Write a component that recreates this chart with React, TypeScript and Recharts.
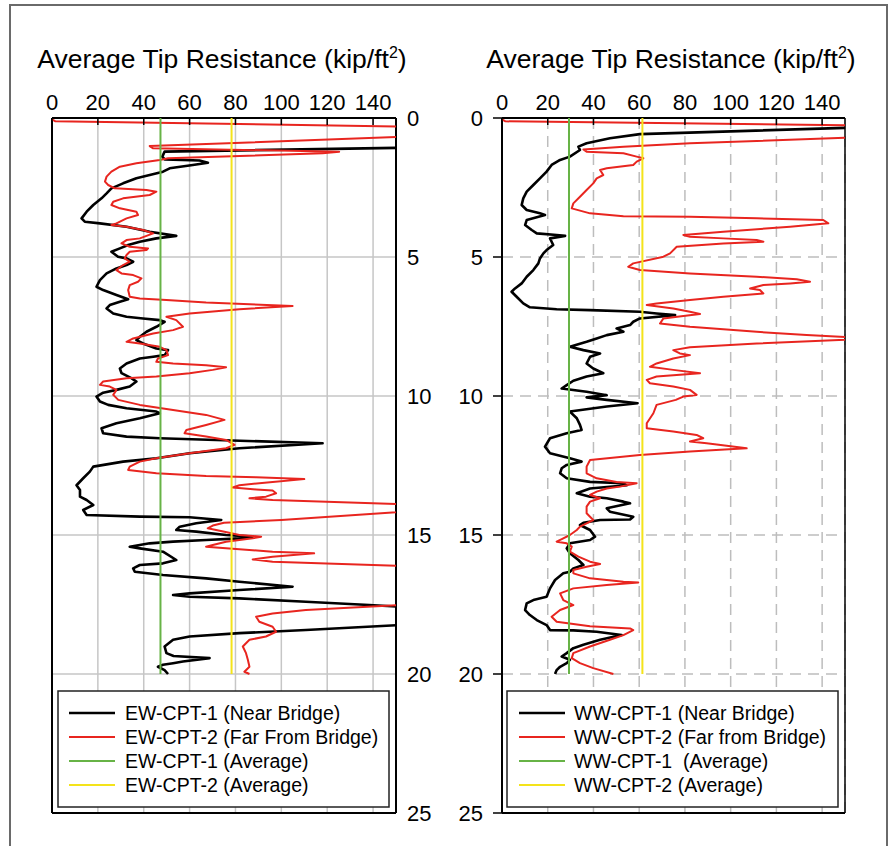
import React from "react";
import { ScatterChart, Scatter, XAxis, YAxis, CartesianGrid, ReferenceLine } from "recharts";

// [depth (ft), average tip resistance (kip/ft2)]
const EW_CPT_1: [number, number][] = [
  [0.1, 175], [1.04, 175], [1.21, 49.1], [1.39, 48.1], [1.49, 49.1], [1.53, 64.3], [1.61, 68.0], [1.69, 61.4],
  [1.81, 51.3], [1.93, 48.4], [2.05, 42.6], [2.17, 36.8], [2.35, 31.0], [2.53, 25.9], [2.71, 23.8], [2.89, 21.6],
  [3.13, 18.0], [3.37, 15.1], [3.61, 12.9], [3.73, 14.3], [3.79, 20.9], [3.91, 32.5], [4.09, 42.6], [4.24, 54.2],
  [4.33, 45.5], [4.45, 38.3], [4.57, 33.2], [4.69, 29.6], [4.81, 25.9], [4.99, 28.8], [5.05, 32.5], [5.17, 35.4],
  [5.29, 32.5], [5.41, 28.1], [5.59, 23.8], [5.83, 20.9], [6.07, 19.4], [6.19, 22.3], [6.37, 28.1], [6.52, 33.2],
  [6.61, 29.6], [6.73, 25.2], [6.85, 23.8], [7.03, 26.7], [7.15, 32.5], [7.21, 39.7], [7.27, 47.0], [7.33, 49.1],
  [7.51, 45.5], [7.69, 41.2], [7.87, 38.3], [7.99, 36.8], [8.11, 39.7], [8.29, 45.5], [8.35, 50.6], [8.53, 49.1],
  [8.59, 44.1], [8.65, 38.3], [8.83, 32.5], [9.01, 29.6], [9.18, 30.3], [9.36, 34.6], [9.48, 36.8], [9.66, 33.9],
  [9.78, 28.1], [9.88, 22.3], [10.02, 19.4], [10.2, 20.9], [10.32, 24.5], [10.44, 32.5], [10.56, 45.5], [10.62, 47.0],
  [10.8, 38.3], [10.98, 28.1], [11.16, 21.6], [11.34, 22.3], [11.46, 32.5], [11.52, 47.0], [11.7, 118.0], [11.88, 81.7],
  [12.06, 60.0], [12.24, 45.5], [12.36, 31.0], [12.54, 18.0], [12.72, 16.5], [12.96, 13.6], [13.21, 10.7], [13.38, 12.2],
  [13.62, 12.2], [13.74, 15.1], [13.92, 18.0], [14.1, 13.6], [14.28, 15.1], [14.34, 38.3], [14.36, 60.0], [14.46, 73.8],
  [14.58, 62.9], [14.7, 55.7], [14.82, 54.2], [14.88, 62.9], [15.0, 75.9], [15.06, 87.5], [15.12, 81.7], [15.18, 67.2],
  [15.24, 52.8], [15.3, 42.6], [15.42, 33.9], [15.48, 38.3], [15.6, 48.4], [15.9, 54.2], [16.02, 48.4], [16.08, 38.3],
  [16.2, 35.4], [16.32, 36.1], [16.44, 48.4], [16.56, 67.2], [16.68, 81.7], [16.86, 104.9], [16.98, 81.7], [17.1, 60.0],
  [17.16, 52.8], [17.22, 60.0], [17.28, 81.7], [17.4, 110.7], [17.52, 138.3], [17.62, 160], [18.18, 165], [18.42, 110.7],
  [18.53, 81.7], [18.65, 60.0], [18.77, 52.8], [19.01, 49.1], [19.25, 49.9], [19.35, 53.0], [19.43, 68.7], [19.55, 57.1],
  [19.61, 52.8], [19.67, 48.4], [19.74, 46.2], [19.86, 49.1], [20.0, 50.6],
];

const EW_CPT_2: [number, number][] = [
  [0.05, 0], [0.12, 1.5], [0.33, 170], [0.62, 170], [1.01, 42.6], [1.09, 44.1], [1.21, 125.2], [1.27, 118.0],
  [1.45, 50.6], [1.51, 47.0], [1.63, 36.8], [1.75, 29.6], [1.93, 25.9], [2.11, 23.8], [2.29, 23.1], [2.41, 24.5],
  [2.53, 27.4], [2.59, 41.2], [2.65, 45.5], [2.77, 42.6], [2.89, 31.0], [3.01, 26.7], [3.13, 25.9], [3.25, 29.6],
  [3.37, 36.8], [3.49, 37.5], [3.61, 32.5], [3.79, 28.1], [3.85, 25.9], [3.91, 32.5], [4.03, 39.7], [4.15, 44.1],
  [4.33, 38.3], [4.39, 32.5], [4.51, 30.3], [4.63, 33.9], [4.69, 41.9], [4.75, 41.2], [4.81, 33.9], [4.93, 32.5],
  [5.05, 31.7], [5.17, 33.9], [5.29, 31.0], [5.47, 28.1], [5.59, 30.3], [5.65, 35.4], [5.77, 39.0], [5.89, 37.5],
  [6.01, 33.9], [6.19, 33.2], [6.43, 33.9], [6.49, 38.3], [6.55, 49.9], [6.64, 67.2], [6.76, 104.9], [6.88, 81.7],
  [7.03, 60.0], [7.15, 49.9], [7.27, 54.2], [7.51, 57.1], [7.63, 52.8], [7.75, 44.1], [7.93, 35.4], [8.05, 32.5],
  [8.11, 38.3], [8.23, 47.0], [8.35, 49.9], [8.53, 50.6], [8.65, 46.2], [8.77, 45.5], [8.83, 52.8], [8.89, 67.2],
  [8.97, 75.9], [9.06, 70.1], [9.18, 60.0], [9.3, 45.5], [9.36, 32.5], [9.48, 22.3], [9.6, 20.9], [9.66, 25.2],
  [9.78, 28.1], [9.96, 26.7], [10.14, 28.9], [10.32, 38.3], [10.5, 52.8], [10.68, 67.2], [10.86, 75.2], [11.04, 67.2],
  [11.22, 58.6], [11.34, 57.8], [11.46, 67.2], [11.58, 75.9], [11.76, 79.6], [11.88, 75.9], [12.06, 60.0], [12.24, 45.5],
  [12.36, 38.3], [12.54, 33.9], [12.66, 33.2], [12.78, 45.5], [12.88, 67.2], [12.92, 89.0], [12.99, 110.0], [13.09, 96.2],
  [13.21, 81.7], [13.29, 78.8], [13.36, 89.0], [13.4, 96.2], [13.5, 97.7], [13.62, 93.3], [13.68, 86.1], [13.74, 96.2],
  [13.93, 165], [14.1, 165], [14.46, 100], [14.56, 75.0], [14.66, 70.1], [14.76, 67.9], [14.88, 75.2], [15.0, 81.7],
  [15.06, 91.2], [15.12, 87.5], [15.24, 75.9], [15.36, 70.1], [15.42, 67.2], [15.48, 75.9], [15.6, 96.2], [15.66, 114.3],
  [15.78, 96.2], [15.88, 87.5], [15.96, 96.2], [16.15, 165], [17.46, 165], [17.7, 110.7], [17.82, 96.2], [17.94, 89.0],
  [18.12, 90.4], [18.3, 96.2], [18.48, 97.7], [18.65, 93.3], [18.77, 86.1], [19.01, 83.2], [19.25, 84.6], [19.49, 85.4],
  [19.74, 86.1], [19.92, 83.9], [20.0, 86.1],
];

const WW_CPT_1: [number, number][] = [
  [0.05, 175], [0.33, 160], [0.58, 60.3], [0.73, 47.2], [0.91, 37.0], [1.03, 33.4], [1.15, 34.1], [1.39, 29.7],
  [1.51, 25.4], [1.69, 21.7], [1.93, 19.5], [2.17, 16.6], [2.41, 13.7], [2.65, 10.8], [2.89, 9.3], [3.13, 8.6],
  [3.31, 10.8], [3.43, 16.6], [3.49, 18.8], [3.67, 10.8], [3.85, 10.1], [4.03, 13.0], [4.15, 15.2], [4.21, 23.9],
  [4.24, 27.6], [4.33, 21.0], [4.45, 21.7], [4.57, 22.4], [4.75, 19.5], [4.87, 18.1], [5.05, 16.6], [5.23, 15.9],
  [5.47, 13.7], [5.71, 10.8], [5.95, 8.6], [6.13, 5.7], [6.25, 4.2], [6.43, 6.4], [6.67, 9.3], [6.81, 12.2],
  [6.88, 23.9], [6.91, 38.5], [6.97, 60.3], [7.03, 67.6], [7.09, 75.7], [7.21, 60.3], [7.33, 57.4], [7.45, 56.0],
  [7.57, 50.1], [7.69, 53.1], [7.81, 45.8], [7.93, 41.4], [8.05, 37.0], [8.23, 29.7], [8.35, 35.6], [8.47, 42.9],
  [8.59, 38.5], [8.83, 37.0], [9.01, 39.9], [9.18, 44.3], [9.3, 37.0], [9.45, 31.2], [9.61, 28.3], [9.73, 26.1],
  [9.85, 37.0], [9.97, 45.8], [10.05, 37.0], [10.14, 45.8], [10.26, 59.3], [10.38, 45.8], [10.56, 29.7], [10.8, 32.7],
  [11.04, 34.1], [11.22, 34.8], [11.34, 28.3], [11.52, 21.0], [11.82, 18.8], [12.06, 21.0], [12.24, 29.7], [12.36, 34.8],
  [12.48, 28.3], [12.6, 26.1], [12.78, 25.4], [12.96, 28.3], [13.09, 38.5], [13.14, 53.1], [13.21, 54.5], [13.33, 38.5],
  [13.5, 32.7], [13.62, 38.5], [13.68, 45.8], [13.8, 53.1], [13.86, 56.0], [14.04, 45.8], [14.16, 47.2], [14.34, 57.4],
  [14.44, 56.0], [14.46, 42.9], [14.56, 35.6], [14.64, 34.1], [14.82, 38.5], [15.06, 40.7], [15.18, 38.5], [15.3, 29.7],
  [15.48, 28.3], [15.66, 29.7], [15.9, 33.4], [16.08, 35.6], [16.2, 31.2], [16.32, 29.7], [16.38, 26.8], [16.62, 23.2],
  [16.92, 21.0], [17.22, 19.5], [17.34, 13.7], [17.46, 10.8], [17.7, 10.1], [17.88, 12.2], [18.06, 15.2], [18.24, 19.5],
  [18.42, 21.0], [18.43, 31.2], [18.48, 41.4], [18.6, 52.3], [18.77, 42.9], [18.95, 35.6], [19.07, 31.2], [19.25, 28.3],
  [19.37, 26.1], [19.49, 29.7], [19.61, 28.3], [19.74, 25.4], [19.86, 23.9], [20.0, 23.2],
];

const WW_CPT_2: [number, number][] = [
  [0.05, 0], [0.12, 1.5], [0.28, 170], [0.65, 170], [0.91, 82.2], [1.03, 53.1], [1.13, 35.6], [1.21, 37.0],
  [1.27, 53.1], [1.39, 58.9], [1.45, 61.8], [1.57, 58.9], [1.69, 57.4], [1.81, 45.8], [1.87, 42.9], [2.05, 44.3],
  [2.17, 41.4], [2.35, 39.9], [2.59, 37.0], [2.83, 34.1], [3.07, 31.2], [3.25, 30.5], [3.43, 38.5], [3.53, 53.1],
  [3.55, 82.2], [3.61, 111.4], [3.67, 140.5], [3.79, 142.7], [3.91, 126.0], [4.09, 96.8], [4.21, 79.3], [4.27, 82.2],
  [4.33, 96.8], [4.39, 111.4], [4.45, 114.3], [4.51, 96.8], [4.63, 76.4], [4.87, 73.5], [4.99, 70.6], [5.23, 57.4],
  [5.35, 55.2], [5.47, 60.3], [5.59, 82.2], [5.71, 111.4], [5.8, 128.9], [5.89, 134.7], [5.95, 126.0], [6.01, 114.3],
  [6.13, 108.5], [6.19, 112.8], [6.31, 114.3], [6.43, 96.8], [6.55, 82.2], [6.67, 67.6], [6.73, 63.3], [6.85, 74.9],
  [6.97, 82.2], [7.05, 86.6], [7.12, 79.3], [7.21, 70.6], [7.39, 69.1], [7.51, 82.2], [7.69, 111.4], [7.81, 133.2],
  [7.93, 165], [8.11, 111.4], [8.25, 82.2], [8.35, 74.9], [8.47, 77.8], [8.53, 82.2], [8.65, 74.9], [8.83, 67.6],
  [8.95, 64.7], [9.06, 74.9], [9.18, 86.6], [9.3, 67.6], [9.42, 63.3], [9.54, 64.7], [9.66, 74.9], [9.78, 82.2],
  [9.96, 85.1], [10.02, 79.3], [10.14, 76.0], [10.32, 67.6], [10.62, 66.2], [10.98, 63.3], [11.16, 63.3], [11.28, 74.9],
  [11.4, 85.1], [11.52, 88.0], [11.64, 82.2], [11.7, 89.5], [11.88, 107.0], [12.0, 82.2], [12.12, 60.3], [12.3, 38.5],
  [12.54, 37.0], [12.78, 37.0], [12.96, 41.4], [13.09, 50.1], [13.14, 58.9], [13.26, 51.6], [13.33, 45.8], [13.44, 41.4],
  [13.56, 38.5], [13.68, 42.9], [13.8, 38.5], [13.98, 37.0], [14.22, 37.0], [14.46, 39.9], [14.58, 37.0], [14.7, 34.1],
  [14.82, 32.7], [15.0, 29.7], [15.12, 26.8], [15.24, 23.9], [15.3, 28.3], [15.42, 30.5], [15.6, 29.7], [15.78, 33.4],
  [15.96, 38.5], [16.04, 42.9], [16.14, 37.0], [16.26, 31.2], [16.38, 31.2], [16.56, 38.5], [16.68, 53.1], [16.71, 59.6],
  [16.8, 45.8], [16.92, 31.2], [17.1, 25.4], [17.34, 26.8], [17.52, 31.2], [17.7, 25.4], [17.94, 21.7], [18.12, 23.9],
  [18.28, 38.5], [18.36, 56.0], [18.42, 57.4], [18.6, 53.1], [18.77, 47.2], [19.01, 38.5], [19.25, 31.2], [19.43, 30.5],
  [19.61, 34.1], [19.79, 39.9], [20.0, 48.7],
];

// average tip resistance of each sounding (kip/ft2), drawn from 0 to 20 ft
const EW_AVERAGES = [47.3, 78.3];
const WW_AVERAGES = [29.3, 61.4];
const AVG_DEPTHS = [0, 20];

const Q_TICKS = [0, 20, 40, 60, 80, 100, 120, 140];
const DEPTH_TICKS = [0, 5, 10, 15, 20, 25];

const EW_LEGEND = ["EW-CPT-1 (Near Bridge)", "EW-CPT-2 (Far From Bridge)", "EW-CPT-1 (Average)", "EW-CPT-2 (Average)"];
const WW_LEGEND = ["WW-CPT-1 (Near Bridge)", "WW-CPT-2 (Far from Bridge)", "WW-CPT-1  (Average)", "WW-CPT-2 (Average)"];

const COLORS = ["#000000", "#e8251f", "#67b346", "#f4e31a"];
const WIDTHS = [2.6, 2, 2, 2];
const FONT = '"Liberation Sans", Arial, sans-serif';
const PLOT_TOP = 118;

const rows = (s: [number, number][]) => s.map(([d, q]) => ({ d, q }));
const avgRows = (q: number) => AVG_DEPTHS.map((d) => ({ d, q }));
const noDot = () => <g />;

function TopTick(props: any) {
  const { x, payload } = props;
  return (
    <g>
      <line x1={x} x2={x} y1={PLOT_TOP} y2={PLOT_TOP + 7} stroke="#000" strokeWidth={1.5} />
      <text x={x} y={110} textAnchor="middle" fontSize={22} fontFamily={FONT} fill="#000">
        {payload.value}
      </text>
    </g>
  );
}

function Panel({ s1, s2, avgs, side }: { s1: [number, number][]; s2: [number, number][]; avgs: number[]; side: "left" | "right" }) {
  const isLeft = side === "left";
  const margin = isLeft ? { top: 88, right: 9, bottom: 33, left: 22 } : { top: 88, right: 45, bottom: 33, left: 10 };
  const grid = isLeft ? { stroke: "#c6c6c6", strokeWidth: 1.5 } : { stroke: "#bdbdbd", strokeWidth: 1.5, strokeDasharray: "11 7" };
  return (
    <ScatterChart width={445} height={846} margin={margin} style={{ fontFamily: FONT }}>
      <CartesianGrid {...grid} />
      <XAxis
        type="number"
        dataKey="q"
        orientation="top"
        domain={[0, 150]}
        ticks={Q_TICKS}
        allowDataOverflow
        height={30}
        tickLine={false}
        tick={(p: any) => <TopTick {...p} />}
        axisLine={{ stroke: "#000", strokeWidth: 2 }}
      />
      {isLeft ? (
        <YAxis
          type="number"
          dataKey="d"
          orientation="right"
          reversed
          domain={[0, 25]}
          ticks={DEPTH_TICKS}
          allowDataOverflow
          width={40}
          tickLine={false}
          tickSize={0}
          tickMargin={11}
          tick={{ fill: "#000", fontSize: 22, textAnchor: "start" }}
          axisLine={{ stroke: "#000", strokeWidth: 2 }}
        />
      ) : (
        <YAxis
          type="number"
          dataKey="d"
          orientation="left"
          reversed
          domain={[0, 25]}
          ticks={DEPTH_TICKS}
          allowDataOverflow
          width={47}
          tickSize={9}
          tickMargin={10}
          tickLine={{ stroke: "#000", strokeWidth: 1.5 }}
          tick={{ fill: "#000", fontSize: 22 }}
          axisLine={{ stroke: "#000", strokeWidth: 2 }}
        />
      )}
      {isLeft && (
        <YAxis
          yAxisId="l"
          type="number"
          dataKey="d"
          orientation="left"
          reversed
          domain={[0, 25]}
          ticks={DEPTH_TICKS}
          allowDataOverflow
          width={30}
          tick={false}
          tickSize={7}
          tickLine={{ stroke: "#000", strokeWidth: 1.5 }}
          axisLine={{ stroke: "#000", strokeWidth: 2 }}
        />
      )}
      <ReferenceLine y={25} stroke="#000" strokeWidth={2} />
      {!isLeft && <ReferenceLine x={150} stroke="#000" strokeWidth={1.5} />}
      <Scatter data={rows(s1)} line={{ stroke: COLORS[0], strokeWidth: WIDTHS[0], strokeLinejoin: "round" }} lineJointType="linear" shape={noDot} isAnimationActive={false} />
      <Scatter data={rows(s2)} line={{ stroke: COLORS[1], strokeWidth: WIDTHS[1], strokeLinejoin: "round" }} lineJointType="linear" shape={noDot} isAnimationActive={false} />
      <Scatter data={avgRows(avgs[0])} line={{ stroke: COLORS[2], strokeWidth: WIDTHS[2] }} shape={noDot} isAnimationActive={false} />
      <Scatter data={avgRows(avgs[1])} line={{ stroke: COLORS[3], strokeWidth: WIDTHS[3] }} shape={noDot} isAnimationActive={false} />
    </ScatterChart>
  );
}

function LegendBox({ x, labels, sampleX, textX }: { x: number; labels: string[]; sampleX: number; textX: number }) {
  const top = 691;
  return (
    <g>
      <rect x={x} y={top} width={331} height={116} fill="#fff" stroke="#222" strokeWidth={1.5} />
      {labels.map((t, i) => {
        const cy = 713 + i * 24;
        return (
          <g key={t}>
            <line x1={sampleX} x2={sampleX + 46} y1={cy} y2={cy} stroke={COLORS[i]} strokeWidth={i === 0 ? 2.6 : 2.2} />
            <text x={textX} y={cy + 7} fontSize={19.5} fontFamily={FONT} fill="#000" style={{ whiteSpace: "pre" }}>
              {t}
            </text>
          </g>
        );
      })}
    </g>
  );
}

function Title({ cx }: { cx: number }) {
  return (
    <text x={cx} y={68} textAnchor="middle" fontSize={26.5} fontFamily={FONT} fill="#000">
      Average Tip Resistance (kip/ft
      <tspan dy={-10} fontSize={16}>2</tspan>
      <tspan dy={10}>)</tspan>
    </text>
  );
}

export default function App() {
  return (
    <div style={{ position: "absolute", left: 0, top: 0, width: 890, height: 846, background: "#fff", overflow: "hidden" }}>
      <div style={{ position: "absolute", left: 9, top: 4, width: 879, height: 900, border: "2px solid #6a6a6a", boxSizing: "border-box" }} />
      <div style={{ position: "absolute", left: 0, top: 0 }}>
        <Panel s1={EW_CPT_1} s2={EW_CPT_2} avgs={EW_AVERAGES} side="left" />
      </div>
      <div style={{ position: "absolute", left: 445, top: 0 }}>
        <Panel s1={WW_CPT_1} s2={WW_CPT_2} avgs={WW_AVERAGES} side="right" />
      </div>
      <svg width={890} height={846} style={{ position: "absolute", left: 0, top: 0, pointerEvents: "none" }}>
        <Title cx={222} />
        <Title cx={671} />
        <LegendBox x={58} labels={EW_LEGEND} sampleX={69} textX={125} />
        <LegendBox x={507} labels={WW_LEGEND} sampleX={519} textX={574} />
      </svg>
    </div>
  );
}
